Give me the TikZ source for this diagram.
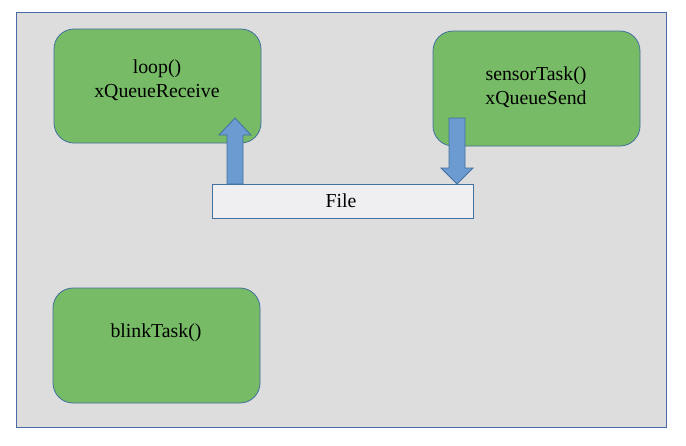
\documentclass[tikz,border=0pt]{standalone}
\usepackage{fontspec}
\setmainfont{Liberation Serif}
\newfontfamily\diagfont{Liberation Serif}
\definecolor{bgfill}{HTML}{DDDDDD}
\definecolor{bgline}{HTML}{4A6BA5}
\definecolor{taskfill}{HTML}{77BB66}
\definecolor{taskline}{HTML}{41719C}
\definecolor{filefill}{HTML}{EFEFF2}
\definecolor{arrowfill}{HTML}{6C9BD2}
\tikzset{
  taskbox/.style={draw=taskline, fill=taskfill, line width=0.8pt, rounded corners=20pt},
  blockarrow/.style={draw=taskline, fill=arrowfill, line width=0.8pt},
  lbl/.style={font=\diagfont\fontsize{19.8}{24}\selectfont, align=center, text=black, inner sep=0pt}
}
\begin{document}
\begin{tikzpicture}[x=1pt,y=-1pt]
\useasboundingbox (0,0) rectangle (686,445);
\fill[white] (0,0) rectangle (686,445);
\draw[draw=bgline, fill=bgfill, line width=1pt] (16,12) rectangle (666,427);
% task boxes
\draw[taskbox] (54,29) rectangle (261,143);
\node[lbl] (loop) at (157,80) {loop()\\xQueueReceive};
\draw[taskbox] (433,31) rectangle (640,146);
\node[lbl] (sensor) at (536,87) {sensorTask()\\xQueueSend};
\draw[taskbox] (53,288) rectangle (260,403);
\node[lbl] (blink) at (156,333) {blinkTask()};
% file box
\draw[draw=taskline, fill=filefill, line width=0.8pt] (212,184) rectangle (473,218);
\node[lbl] (file) at (341,201) {File};
% up arrow (File -> loop)
\coordinate (ua) at (235,184);
\draw[blockarrow] (ua) ++(-8,0) -- ++(0,-49) -- ++(-8,0) -- (235,118) -- (251,135) -- ++(-8,0) -- ++(0,49) -- cycle;
% down arrow (sensor -> File)
\coordinate (da) at (457,118);
\draw[blockarrow] (da) ++(-8,0) -- ++(0,50) -- ++(-8,0) -- (457,184) -- (473,168) -- ++(-8,0) -- ++(0,-50) -- cycle;
\end{tikzpicture}
\end{document}
